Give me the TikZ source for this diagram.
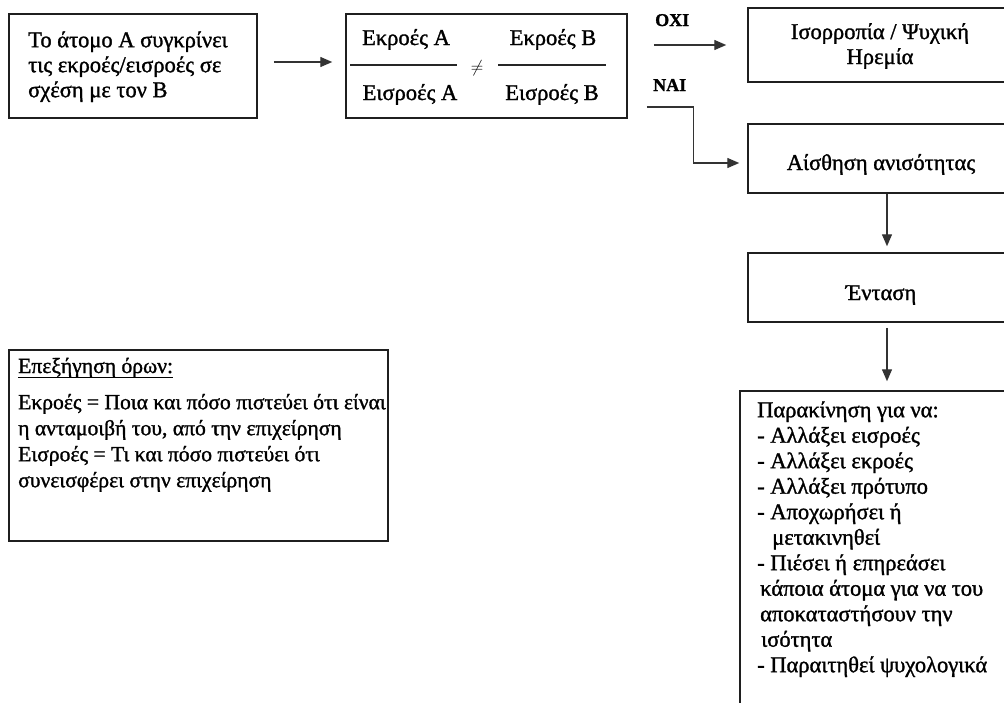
\documentclass[tikz,border=0pt]{standalone}
\usepackage{fontspec}
\setmainfont{Liberation Serif}[RawFeature={embolden=1.3}]
\usetikzlibrary{arrows.meta,calc}
\begin{document}
\begin{tikzpicture}[x=1pt,y=-1pt,
  bx/.style={draw=black!88,line width=1.5pt,inner sep=0pt},
  txt/.style={font=\fontsize{22.5}{25}\selectfont,inner sep=0pt},
  txtb/.style={font=\fontsize{22.5}{25.5}\selectfont,inner sep=0pt},
  txte/.style={font=\fontsize{21.6}{26}\selectfont,inner sep=0pt},
  lbl/.style={font=\fontsize{18}{20}\selectfont\bfseries,inner sep=0pt,anchor=base west},
  arr/.style={line width=1.4pt,draw=black!80,-{Triangle[length=12pt,width=10pt]}},
  fracline/.style={line width=1.3pt,draw=black!85}]
\useasboundingbox (0,0) rectangle (1004,702);
\clip (0,0) rectangle (1004,702);
\fill[white] (0,0) rectangle (1004,702);

% boxes
\node[bx,minimum width=248pt,minimum height=104pt] (b1) at (133,66) {};
\node[bx,minimum width=281pt,minimum height=104pt] (b2) at (486.5,66) {};
\node[bx,minimum width=264pt,minimum height=74pt] (b3) at (880,45) {};
\node[bx,minimum width=264pt,minimum height=69pt] (b4) at (880,158.5) {};
\node[bx,minimum width=264pt,minimum height=69pt] (b5) at (880,287.5) {};
\node[bx,minimum width=280pt,minimum height=330pt] (b6) at (880,556) {};
\node[bx,minimum width=379pt,minimum height=191pt] (ex) at (198.5,445.5) {};

% box 1 text
\node[txt,anchor=north west,align=left] (t1) at (28,27)
  {\rule{0pt}{20pt}Το άτομο Α συγκρίνει\\τις εκροές/εισροές σε\\σχέση με τον Β};

% box 2 fractions
\node[txt,anchor=base] (na) at (406,45) {Εκροές Α};
\node[txt,anchor=base] (da) at (410,100) {Εισροές Α};
\node[txt,anchor=base] (nb) at (553,45) {Εκροές Β};
\node[txt,anchor=base] (db) at (552,100) {Εισροές Β};
\draw[fracline] (350,65) -- (457,65);
\draw[fracline] (498,65) -- (606,65);
\node[font=\fontsize{19}{20}\selectfont,inner sep=0pt] (neq) at (477,68) {$\neq$};

% labels
\node[lbl] (oxi) at (655,26) {ΟΧΙ};
\node[lbl] (nai) at (653,91) {ΝΑΙ};

% box 3,4,5 texts
\node[txt,align=center] (t3) at (880,46) {Ισορροπία / Ψυχική\\Ηρεμία};
\node[txt,anchor=base] (t4) at (881,170) {Αίσθηση ανισότητας};
\node[txt,anchor=base] (t5) at (881,300) {Ένταση};

% box 6 text
\node[txtb,anchor=north west,align=left] (t6) at (757,397)
  {\rule{0pt}{20pt}Παρακίνηση για να:\\
   - Αλλάξει εισροές\\
   - Αλλάξει εκροές\\
   - Αλλάξει πρότυπο\\
   - Αποχωρήσει ή\\
   \hspace*{15pt}μετακινηθεί\\
   - Πιέσει ή επηρεάσει\\
   \hspace*{3pt}κάποια άτομα για να του\\
   \hspace*{3pt}αποκαταστήσουν την\\
   \hspace*{4pt}ισότητα\\
   - Παραιτηθεί ψυχολογικά};

% explanation
\node[txte,anchor=base west] (ttl) at (18,373) {Επεξήγηση όρων:};
\draw[line width=1pt] ($(ttl.base west)+(0,4)$) -- ($(ttl.base east)+(0,4)$);
\node[txte,anchor=north west,align=left] (tex) at (18,389)
  {\rule{0pt}{20pt}Εκροές = Ποια και πόσο πιστεύει ότι είναι\\
   η ανταμοιβή του, από την επιχείρηση\\
   Εισροές = Τι και πόσο πιστεύει ότι\\
   συνεισφέρει στην επιχείρηση};

% connectors
\coordinate (oxs) at ($(b2.east)+(26,0)$);
\coordinate (nas) at ($(b2.east)+(19,41)$);
\draw[arr] ($(b1.east)+(16,-4)$) -- ($(b2.west)+(-13,-4)$);
\draw[arr] (oxs |- b3.west) -- ($(b3.west)+(-21,0)$);
\draw[arr] (nas) -- ++(47,0) |- ($(b4.west)+(-8,4.5)$);
\draw[arr] ($(b4.south)+(7,0)$) -- ($(b5.north)+(7,-6)$);
\draw[arr] ($(b5.south)+(7,5)$) -- ($(b6.north)+(7,-9)$);
\end{tikzpicture}
\end{document}
